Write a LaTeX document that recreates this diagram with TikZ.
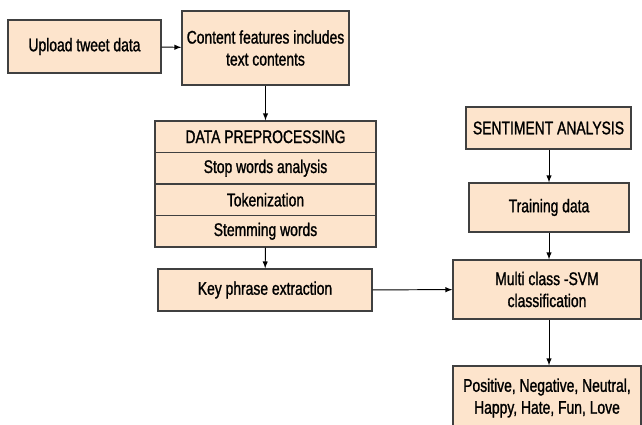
\documentclass[tikz,border=0pt]{standalone}
\usepackage{fontspec}
\setmainfont{Liberation Sans}[FakeStretch=0.76, FakeBold=1.2]
\usepackage{xcolor}
\usetikzlibrary{arrows}

\definecolor{boxfill}{RGB}{253,228,204}
\definecolor{boxline}{RGB}{64,64,64}

\tikzset{
    stage/.style={draw=boxline, fill=boxfill, line width=0.9pt, align=center,
        inner sep=0pt, font=\fontsize{13}{15.6}\selectfont},
    flow/.style={-latex, line width=0.7pt}
}

\begin{document}
\begin{tikzpicture}[x=0.025cm, y=-0.025cm]
                % Cadre de la figure
                \useasboundingbox (0,0) rectangle (642,424);
                \clip (0,0) rectangle (642,424);

                % Colonne de gauche
                \node[stage, minimum width=3.825cm, minimum height=1.325cm] (upload) at (84.5,46.5) {Upload tweet data};
                \node[stage, minimum width=4.175cm, minimum height=1.85cm] (content) at (265.5,48) {Content features includes\\text contents};

                % Bloc de pretraitement
                \foreach \i/\t/\y in {1/DATA PREPROCESSING/136.75, 2/Stop words analysis/168.25, 3/Tokenization/199.75, 4/Stemming words/231.25} {
                    \node[stage, minimum width=5.525cm, minimum height=0.7875cm] (dp\i) at (265.5,\y) {\t};
                }

                \node[stage, minimum width=5.35cm, minimum height=1.05cm] (keyphrase) at (265,290) {Key phrase extraction};

                % Colonne de droite
                \node[stage, minimum width=4.125cm, minimum height=1.05cm] (sentiment) at (548.5,128) {SENTIMENT ANALYSIS};
                \node[stage, minimum width=4cm, minimum height=1.225cm] (training) at (549,207.5) {Training data};
                \node[stage, minimum width=4.7cm, minimum height=1.475cm] (svm) at (547,289.5) {Multi class -SVM\\classification};
                \node[stage, minimum width=4.7cm, minimum height=1.6cm] (result) at (547,398) {Positive, Negative, Neutral,\\Happy, Hate, Fun, Love};

                % Fleches
                \draw[flow] (upload) -- (content);
                \draw[flow] (content) -- (dp1);
                \draw[flow] (dp4) -- (keyphrase);
                \draw[flow] (keyphrase) -- (svm);
                \draw[flow] (sentiment.south -| training.north) -- (training);
                \draw[flow] (training.south) -- (training.south |- svm.north);
                \draw[flow] (training.south |- svm.south) -- (training.south |- result.north);
            \end{tikzpicture}
\end{document}
